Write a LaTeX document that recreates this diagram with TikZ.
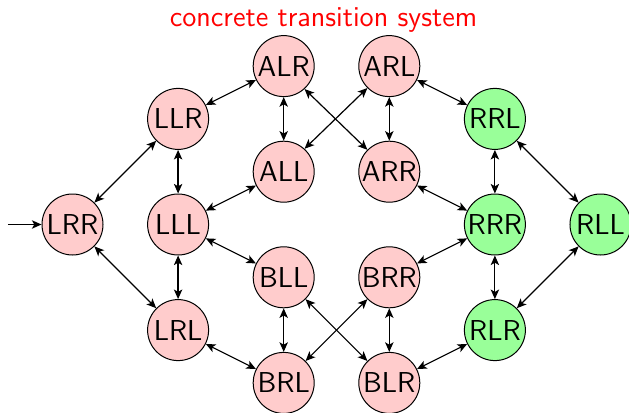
\documentclass[tikz,border=0pt]{standalone}
\usetikzlibrary{arrows.meta}
\begin{document}
\begin{tikzpicture}[x=0.5pt,y=-0.5pt,
  st/.style={circle,draw,line width=0.5pt,minimum size=30.5pt,inner sep=0pt,font=\sffamily\Large,fill=red!20},
  fin/.style={st,fill=green!40},
  tr/.style={line width=0.6pt,{Stealth[length=4.8pt,width=4.2pt,inset=1.2pt]}-{Stealth[length=4.8pt,width=4.2pt,inset=1.2pt]}},
  init/.style={line width=0.6pt,-{Stealth[length=4.8pt,width=4.2pt,inset=1.2pt]}}]
\useasboundingbox (0,0) rectangle (629,413);
\def\ca{72.5}\def\cb{178.1}\def\cc{283.7}\def\cd{389.3}\def\ce{494.9}\def\cf{600.5}
\node[anchor=base,text=red,font=\sffamily\Large] (title) at (323.5,26.7) {concrete transition system};
\node[st] (LRR) at (\ca,224.5) {LRR};
\node[st] (LLR) at (\cb,118.9) {LLR};
\node[st] (LLL) at (\cb,224.5) {LLL};
\node[st] (LRL) at (\cb,330.1) {LRL};
\node[st] (ALR) at (\cc,66.1) {ALR};
\node[st] (ALL) at (\cc,171.7) {ALL};
\node[st] (BLL) at (\cc,277.3) {BLL};
\node[st] (BRL) at (\cc,382.9) {BRL};
\node[st] (ARL) at (\cd,66.1) {ARL};
\node[st] (ARR) at (\cd,171.7) {ARR};
\node[st] (BRR) at (\cd,277.3) {BRR};
\node[st] (BLR) at (\cd,382.9) {BLR};
\node[fin] (RRL) at (\ce,118.9) {RRL};
\node[fin] (RRR) at (\ce,224.5) {RRR};
\node[fin] (RLR) at (\ce,330.1) {RLR};
\node[fin] (RLL) at (\cf,224.5) {RLL};
\coordinate (start) at (8,224.5);
\draw[init] (start) -- (LRR);
\draw[tr] (LRR) -- (LLR);
\draw[tr] (LRR) -- (LRL);
\draw[tr] (LLR) -- (LLL);
\draw[tr] (LLL) -- (LRL);
\draw[tr] (LLR) -- (ALR);
\draw[tr] (LLL) -- (ALL);
\draw[tr] (LLL) -- (BLL);
\draw[tr] (LRL) -- (BRL);
\draw[tr] (ALR) -- (ALL);
\draw[tr] (ALR) -- (ARR);
\draw[tr] (ALL) -- (ARL);
\draw[tr] (ARL) -- (ARR);
\draw[tr] (ARL) -- (RRL);
\draw[tr] (ARR) -- (RRR);
\draw[tr] (BLL) -- (BRL);
\draw[tr] (BLL) -- (BLR);
\draw[tr] (BRL) -- (BRR);
\draw[tr] (BRR) -- (BLR);
\draw[tr] (BRR) -- (RRR);
\draw[tr] (BLR) -- (RLR);
\draw[tr] (RRL) -- (RRR);
\draw[tr] (RRR) -- (RLR);
\draw[tr] (RRL) -- (RLL);
\draw[tr] (RLR) -- (RLL);
\end{tikzpicture}
\end{document}
